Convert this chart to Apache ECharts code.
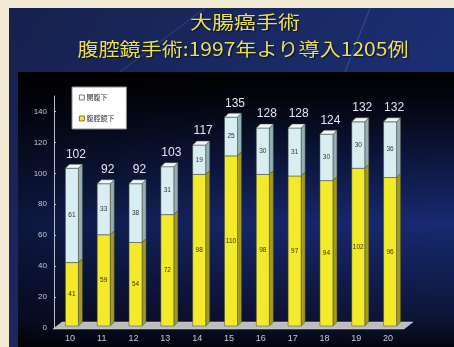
<!DOCTYPE html>
<html>
<head>
<meta charset="utf-8">
<script src="https://cdn.jsdelivr.net/npm/echarts@6/dist/echarts.min.js"></script>
<style>
  html, body { margin: 0; padding: 0; background: #f2ead2; }
  #chart { width: 454px; height: 347px; }
</style>
</head>
<body>
<div id="chart"></div>
<script>
// Fiscal years (Heisei) on the category axis
const years = ['10', '11', '12', '13', '14', '15', '16', '17', '18', '19', '20'];
// Laparoscopic cases (yellow, lower segment)
const laparoscopic = [41, 59, 54, 72, 98, 110, 98, 97, 94, 102, 96];
// Open surgery cases (pale blue, upper segment)
const openSurgery = [61, 33, 38, 31, 19, 25, 30, 31, 30, 30, 36];
// Yearly totals shown above each column
const totals = [102, 92, 92, 103, 117, 135, 128, 128, 124, 132, 132];
// Value axis ticks
const yTicks = [0, 20, 40, 60, 80, 100, 120, 140];

const titleLines = ['大腸癌手術', '腹腔鏡手術:1997年より導入1205例'];
const seriesNames = ['開腹下', '腹腔鏡下'];

const chart = echarts.init(document.getElementById('chart'), null, { renderer: 'canvas' });

const BAR_W = 13, DEPTH_X = 4, DEPTH_Y = 4;

// Draws one segment of a 3D-looking stacked column
function segmentRenderer(colors, isTop, labelColor) {
  return function (params, api) {
    const i = api.value(0);
    const lo = api.value(1);
    const hi = api.value(2);
    const pLo = api.coord([i, lo]);
    const pHi = api.coord([i, hi]);
    const x0 = pLo[0] - BAR_W / 2 + 2;
    const x1 = x0 + BAR_W;
    const yb = pLo[1] - 2;
    const yt = pHi[1] - 2;
    const children = [
      {
        type: 'polygon',
        shape: { points: [[x1, yb], [x1 + DEPTH_X, yb - DEPTH_Y], [x1 + DEPTH_X, yt - DEPTH_Y], [x1, yt]] },
        style: { fill: colors.side, stroke: '#4a4a3a', lineWidth: 0.5 }
      },
      {
        type: 'rect',
        shape: { x: x0, y: yt, width: BAR_W, height: yb - yt },
        style: { fill: colors.front, stroke: '#4a4a3a', lineWidth: 0.5 }
      },
      {
        type: 'text',
        style: {
          x: x0 + BAR_W / 2, y: (yt + yb) / 2,
          text: String(hi - lo),
          fill: labelColor, fontSize: 6.5, fontFamily: 'Liberation Sans',
          align: 'center', verticalAlign: 'middle'
        }
      }
    ];
    if (isTop) {
      children.push({
        type: 'polygon',
        shape: { points: [[x0, yt], [x0 + DEPTH_X, yt - DEPTH_Y], [x1 + DEPTH_X, yt - DEPTH_Y], [x1, yt]] },
        style: { fill: colors.top, stroke: '#4a4a3a', lineWidth: 0.5 }
      });
      children.push({
        type: 'text',
        style: {
          x: x0 + BAR_W / 2 + 4, y: yt - 14,
          text: String(totals[i]),
          fill: '#e4e4f0', fontSize: 12, fontFamily: 'Liberation Sans',
          align: 'center', verticalAlign: 'middle'
        }
      });
    }
    return { type: 'group', children: children };
  };
}

// Grey floor under the columns, spanning the plotting grid
function floorRenderer(params, api) {
  const cs = params.coordSys;
  const xl = cs.x - 1, xr = cs.x + cs.width, yf = cs.y + cs.height + 1;
  return {
    type: 'polygon',
    shape: { points: [[xl, yf], [xl + 9, yf - 7], [xr + 9, yf - 7], [xr, yf]] },
    style: { fill: '#bdbdbd', stroke: '#d8d8d8', lineWidth: 0.5 }
  };
}

const yellow = { front: '#f3ea2c', side: '#a39b1e', top: '#fbf58a' };
const paleBlue = { front: '#d9eef2', side: '#93b0b4', top: '#eef8fa' };

const option = {
  backgroundColor: '#f2ead2',
  animation: false,
  graphic: [
    {
      type: 'rect', z: -10, silent: true,
      shape: { x: 9, y: 8, width: 445, height: 339 },
      style: {
        fill: new echarts.graphic.LinearGradient(0, 0, 1, 1, [
          { offset: 0, color: '#17214d' },
          { offset: 0.6, color: '#1b2d6e' },
          { offset: 1, color: '#1a3483' }
        ])
      }
    },
    {
      type: 'line', z: -9, silent: true,
      shape: { x1: 120, y1: 72, x2: 205, y2: 8 },
      style: { stroke: 'rgba(120,160,255,0.25)', lineWidth: 1 }
    },
    {
      type: 'line', z: -9, silent: true,
      shape: { x1: 345, y1: 72, x2: 370, y2: 8 },
      style: { stroke: 'rgba(120,160,255,0.3)', lineWidth: 1 }
    },
    {
      type: 'rect', z: -8, silent: true,
      shape: { x: 18, y: 72, width: 436, height: 275 },
      style: {
        fill: new echarts.graphic.LinearGradient(0, 0, 0, 1, [
          { offset: 0, color: '#000000' },
          { offset: 0.1, color: '#03050f' },
          { offset: 0.55, color: '#172a72' },
          { offset: 0.9, color: '#0c1436' },
          { offset: 1, color: '#04060f' }
        ])
      }
    },
    {
      type: 'rect', z: -7, silent: true,
      shape: { x: 18, y: 72, width: 436, height: 275 },
      style: {
        fill: new echarts.graphic.LinearGradient(0, 0, 1, 0, [
          { offset: 0, color: 'rgba(0,0,0,0.45)' },
          { offset: 0.5, color: 'rgba(0,0,0,0.1)' },
          { offset: 1, color: 'rgba(0,0,0,0)' }
        ])
      }
    },
    {
      type: 'text', z: 10,
      x: 245, y: 22, scaleX: 1.22,
      style: {
        text: titleLines[0], x: 0, y: 0,
        fill: '#eadf58', fontSize: 18, fontWeight: 'normal',
        fontFamily: 'Noto Sans CJK JP',
        align: 'center', verticalAlign: 'middle',
        textShadowColor: 'rgba(0,0,0,0.7)', textShadowBlur: 2, textShadowOffsetX: 1, textShadowOffsetY: 1
      }
    },
    {
      type: 'text', z: 10,
      x: 243, y: 49, scaleX: 1.17,
      style: {
        text: titleLines[1], x: 0, y: 0,
        fill: '#eadf58', fontSize: 18, fontWeight: 'normal',
        fontFamily: 'Noto Sans CJK JP',
        align: 'center', verticalAlign: 'middle',
        textShadowColor: 'rgba(0,0,0,0.7)', textShadowBlur: 2, textShadowOffsetX: 1, textShadowOffsetY: 1
      }
    }
  ],
  legend: {
    data: seriesNames,
    orient: 'vertical',
    left: 72, top: 87,
    backgroundColor: '#ffffff',
    borderColor: '#8a8a8a', borderWidth: 1,
    padding: [7, 12, 7, 7],
    itemGap: 14,
    itemWidth: 5, itemHeight: 5,
    icon: 'rect',
    itemStyle: { borderColor: '#555', borderWidth: 0.8 },
    textStyle: { fontSize: 7, color: '#333', fontFamily: 'Noto Sans CJK JP', padding: [0, 0, 0, -3] },
    selectedMode: false
  },
  grid: { left: 54, top: 96, width: 350, bottom: 19, containLabel: false },
  xAxis: {
    type: 'category',
    data: years,
    axisLine: { show: false },
    axisTick: { show: false },
    axisLabel: { color: '#c6c6d6', fontSize: 9, margin: 6, fontFamily: 'Liberation Sans' },
    splitLine: { show: false }
  },
  yAxis: {
    type: 'value',
    min: 0, max: 150, interval: 20,
    axisLine: { show: true, lineStyle: { color: '#b9b9cf', width: 1 } },
    axisTick: { show: true, inside: true, length: 2, lineStyle: { color: '#b9b9cf' } },
    axisLabel: {
      color: '#c6c6d6', fontSize: 8, margin: 7, fontFamily: 'Liberation Sans',
      showMaxLabel: false,
      formatter: function (v) { return yTicks.indexOf(v) >= 0 ? String(v) : ''; }
    },
    splitLine: { show: false }
  },
  series: [
    {
      type: 'custom',
      name: 'floor',
      silent: true,
      renderItem: floorRenderer,
      data: [[0, 0, 0]],
      z: 1
    },
    {
      type: 'custom',
      name: seriesNames[1],
      itemStyle: { color: yellow.front },
      renderItem: segmentRenderer(yellow, false, '#3a3400'),
      encode: { x: 0, y: [1, 2] },
      data: years.map((y, i) => [i, 0, laparoscopic[i]]),
      z: 2
    },
    {
      type: 'custom',
      name: seriesNames[0],
      itemStyle: { color: '#ffffff' },
      renderItem: segmentRenderer(paleBlue, true, '#333333'),
      encode: { x: 0, y: [1, 2] },
      data: years.map((y, i) => [i, laparoscopic[i], laparoscopic[i] + openSurgery[i]]),
      z: 3
    }
  ]
};

chart.setOption(option);
</script>
</body>
</html>
